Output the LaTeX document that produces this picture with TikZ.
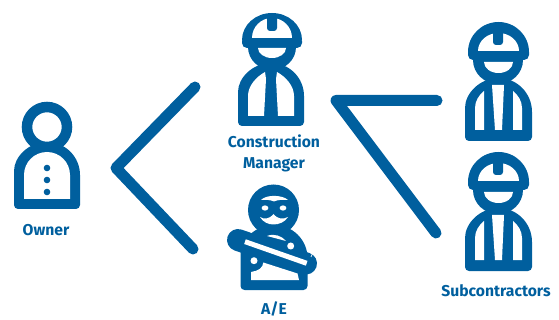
\documentclass[tikz,border=0pt]{standalone}
\usepackage{fontspec}
\setmainfont{Fira Sans}
\definecolor{brandblue}{HTML}{005F9E}
\tikzset{
  lbl/.style={text=brandblue,font=\fontsize{15.7}{21}\selectfont\bfseries,align=center,inner sep=0pt},
  conn/.style={draw=brandblue,line width=11pt,line cap=round,line join=round},
  ink/.style={fill=brandblue,draw=none},
  paper/.style={fill=white,draw=none},
}
\newcommand{\subworker}[1]{
\begin{scope}[yshift=-#1pt]
  \fill[ink] (468,52) arc[start angle=180,end angle=0,x radius=30.5pt,y radius=30pt] -- cycle;
  \fill[ink,rounded corners=5pt] (468,47) rectangle (529,60);
  \fill[ink] (498,60) ellipse[x radius=25pt,y radius=24pt];
  \fill[ink,rounded corners=4pt] (532,112) -- (532,141) -- (465,141) -- (465,112) [sharp corners] arc[start angle=180,end angle=0,x radius=33.5pt,y radius=34pt] -- cycle;
  \fill[paper] (478,51) arc[start angle=180,end angle=0,x radius=20.5pt,y radius=18pt] -- cycle;
  \fill[ink,rounded corners=3pt] (493,30) -- (503,30) -- (503,45) -- (493,45) -- cycle;
  \fill[paper] (484,62) -- (513,62) arc[start angle=0,end angle=-180,x radius=14.5pt,y radius=11pt] -- cycle;
  \fill[paper] (475,130) -- (475,108) .. controls (475,101) and (479,95) .. (484,91) -- (484,130) -- cycle;
  \fill[paper] (522,130) -- (522,108) .. controls (522,101) and (518,95) .. (513,91) -- (513,130) -- cycle;
  \fill[paper] (492,85) -- (504,85) -- (502,130) -- (495,130) -- cycle;
\end{scope}}
\begin{document}
\begin{tikzpicture}[x=1pt,y=-1pt]
\useasboundingbox (0,0) rectangle (559,320);
% Owner
\draw[brandblue,line width=10.5pt] (47,127) circle[radius=20pt];
\fill[ink,rounded corners=4pt] (80,175) -- (80,209) -- (14,209) -- (14,175) [sharp corners] arc[start angle=180,end angle=0,x radius=33pt,y radius=33pt] -- cycle;
\fill[paper] (24,199) -- (24,175) arc[start angle=180,end angle=0,x radius=23pt,y radius=23pt] -- (70,199) -- cycle;
\fill[ink] (47,168) circle[radius=3.3pt] (47,180) circle[radius=3.3pt] (47,192) circle[radius=3.3pt];
% Construction manager
\fill[ink] (242,40) arc[start angle=180,end angle=0,x radius=30pt,y radius=27pt] -- cycle;
\fill[ink,rounded corners=5pt] (242,36) rectangle (302,48);
\fill[ink] (272,47) ellipse[x radius=24pt,y radius=23pt];
\fill[ink,rounded corners=4pt] (304,96) -- (304,126) -- (238,126) -- (238,96) [sharp corners] arc[start angle=180,end angle=0,x radius=33pt,y radius=33pt] -- cycle;
\fill[paper] (252,38) arc[start angle=180,end angle=0,x radius=20pt,y radius=20pt] -- cycle;
\fill[ink,rounded corners=3pt] (267,15) -- (277,15) -- (277,31) -- (267,31) -- cycle;
\fill[paper] (258,48) -- (286,48) arc[start angle=0,end angle=-180,x radius=14pt,y radius=10pt] -- cycle;
\fill[paper] (248,116) -- (248,96) .. controls (248,86) and (256,77) .. (265,72) -- (266,79) -- (264,116) -- cycle;
\fill[paper] (294,116) -- (294,96) .. controls (294,86) and (286,77) .. (277,72) -- (276,79) -- (278,116) -- cycle;
% A/E
\fill[ink] (273.5,210) circle[radius=25.5pt];
\fill[paper] (261,200) .. controls (266,194.5) and (282,194.5) .. (288,200) .. controls (282,199.5) and (277,200) .. (274,201.5) .. controls (271,200) and (266,199.5) .. (261,200) -- cycle;
\fill[paper] (265,208) ellipse[x radius=3.4pt,y radius=2.6pt] (283,208) ellipse[x radius=3.4pt,y radius=2.6pt];
\fill[paper] (260,217) .. controls (264,219.5) and (269,219.5) .. (273.5,214) .. controls (278,219.5) and (283,219.5) .. (288,217) .. controls (285,222) and (279,224.5) .. (273.5,224.5) .. controls (268,224.5) and (263,222) .. (260,217) -- cycle;
\fill[ink,rounded corners=4pt] (307.5,258) -- (307.5,290) -- (240.5,290) -- (240.5,258) [sharp corners] arc[start angle=180,end angle=0,x radius=33.5pt,y radius=33pt] -- cycle;
\draw[brandblue,line width=22pt,line cap=round] (238,240) -- (306,263.5);
\fill[paper] (245.8,239.3) -- (307.5,260.9) -- (305.9,265.7) -- (244.2,244) -- cycle;
\fill[paper] (267,236) .. controls (274,233) and (282,236) .. (286,241) -- cycle;
\fill[paper] (254,260.7) circle[radius=3.5pt] (290.7,246) circle[radius=3.5pt];
\fill[paper] (251,280) -- (251,272) .. controls (258,271) and (263,268) .. (263.3,262.5) -- (297.5,273.5) -- (299,280) -- cycle;
\draw[white,line width=0.7pt] (312.5,253.5) -- (311,257);
% Subcontractors
\subworker{0}
\subworker{130}
% Labels
\node[lbl] (owner) at (46,230) {Owner};
\node[lbl] (cm) at (274,153.5) {Construction\\Manager};
\node[lbl] (ae) at (274,309) {A/E};
\node[lbl] (subs) at (496,291) {Subcontractors};
% Connectors
\coordinate (ownerTip) at (116,168);
\coordinate (toCM) at (195,87);
\coordinate (toAE) at (193,249);
\coordinate (subTip) at (336,100.5);
\coordinate (toSubA) at (437,100.5);
\coordinate (toSubB) at (436,233);
\draw[conn] (toCM) -- (ownerTip) -- (toAE);
\draw[conn] (toSubA) -- (subTip) -- (toSubB);
\end{tikzpicture}
\end{document}
